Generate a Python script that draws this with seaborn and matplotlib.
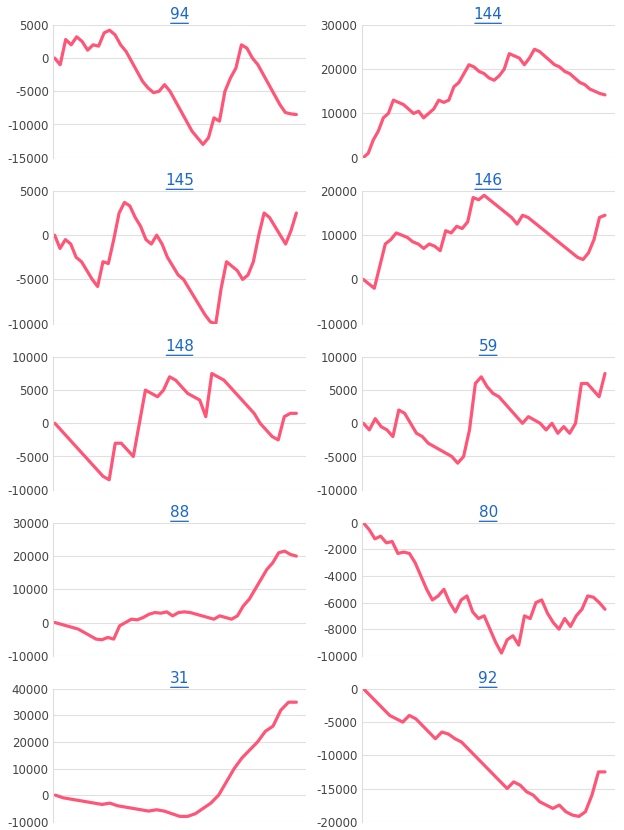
import matplotlib
matplotlib.use("Agg")
import matplotlib.pyplot as plt
import seaborn as sns
import pandas as pd

titles = ["94", "144", "145", "146", "148", "59", "88", "80", "31", "92"]
s94 = [0,-1000,2800,2000,3200,2500,1200,2000,1800,3800,4200,3500,2000,1000,-500,-2000,-3500,-4500,-5200,-5000,-4000,-5000,-6500,-8000,-9500,-11000,-12000,-13000,-12000,-9000,-9500,-5000,-3000,-1500,2000,1500,0,-1000,-2500,-4000,-5500,-7000,-8200,-8400,-8500]
s144 = [0,1000,4000,6000,9000,10000,13000,12500,12000,11000,10000,10500,9000,10000,11000,13000,12500,13000,16000,17000,19000,21000,20500,19500,19000,18000,17500,18500,20000,23500,23000,22500,21000,22500,24500,24000,23000,22000,21000,20500,19500,19000,18000,17000,16500,15500,15000,14500,14200]
s145 = [0,-1500,-500,-1000,-2500,-3000,-4000,-5000,-5800,-3000,-3200,-500,2500,3700,3300,2000,1000,-500,-1000,0,-1000,-2500,-3500,-4500,-5000,-6000,-7000,-8000,-9000,-9800,-10000,-6000,-3000,-3500,-4000,-5000,-4500,-3000,0,2500,2000,1000,0,-1000,500,2500]
s146 = [0,-1000,-2000,3000,8000,9000,10500,10000,9500,8500,8000,7000,8000,7500,6500,11000,10500,12000,11500,13000,18500,18000,19000,18000,17000,16000,15000,14000,12500,14500,14000,13000,12000,11000,10000,9000,8000,7000,6000,5000,4500,6000,9000,14000,14500]
s148 = [0,-1000,-2000,-3000,-4000,-5000,-6000,-7000,-8000,-8500,-3000,-3000,-4000,-5000,0,5000,4500,4000,5000,7000,6500,5500,4500,4000,3500,1000,7500,7000,6500,5500,4500,3500,2500,1500,0,-1000,-2000,-2500,1000,1500,1500]
s59 = [0,-1000,700,-500,-1000,-2000,2000,1500,0,-1500,-2000,-3000,-3500,-4000,-4500,-5000,-6000,-5000,-1000,6000,7000,5500,4500,4000,3000,2000,1000,0,1000,500,0,-1000,0,-1500,-500,-1500,0,6000,6000,5000,4000,7500]
s88 = [0,-500,-1000,-1500,-2000,-3000,-4000,-5000,-5200,-4500,-5000,-1000,0,1000,800,1500,2500,3000,2800,3200,2000,3000,3200,3000,2500,2000,1500,1000,2000,1500,1000,2000,5000,7000,10000,13000,16000,18000,21000,21500,20500,20000]
s80 = [0,-500,-1200,-1000,-1500,-1400,-2300,-2200,-2300,-3000,-4000,-5000,-5800,-5500,-5000,-6000,-6700,-5800,-5500,-6700,-7200,-7000,-8000,-9000,-9800,-8800,-8500,-9200,-7000,-7200,-6000,-5800,-6800,-7500,-8000,-7200,-7800,-7000,-6500,-5500,-5600,-6000,-6500]
s31 = [0,-1000,-1500,-2000,-2500,-3000,-3500,-3000,-4000,-4500,-5000,-5500,-6000,-5500,-6000,-7000,-8000,-8000,-7000,-5000,-3000,0,5000,10000,14000,17000,20000,24000,26000,32000,35000,35000]
s92 = [0,-1000,-2000,-3000,-4000,-4500,-5000,-4000,-4500,-5500,-6500,-7500,-6500,-6800,-7500,-8000,-9000,-10000,-11000,-12000,-13000,-14000,-15000,-14000,-14500,-15500,-16000,-17000,-17500,-18000,-17500,-18500,-19000,-19200,-18500,-16000,-12500,-12500]
series = [s94, s144, s145, s146, s148, s59, s88, s80, s31, s92]
yticks = [
    [-15000,-10000,-5000,0,5000], [0,10000,20000,30000],
    [-10000,-5000,0,5000], [-10000,0,10000,20000],
    [-10000,-5000,0,5000,10000], [-10000,-5000,0,5000,10000],
    [-10000,0,10000,20000,30000], [-10000,-8000,-6000,-4000,-2000,0],
    [-10000,0,10000,20000,30000,40000], [-20000,-15000,-10000,-5000,0],
]

sns.set_style("white")
fig, axes = plt.subplots(5, 2, figsize=(6.24, 8.30), dpi=100)
fig.subplots_adjust(left=0.085, right=0.985, top=0.97, bottom=0.01, wspace=0.22, hspace=0.25)
for ax, t, s, yt in zip(axes.flat, titles, series, yticks):
    df = pd.DataFrame({"x": range(len(s)), "y": s})
    sns.lineplot(data=df, x="x", y="y", ax=ax, color="#ff5577", linewidth=2.3)
    n = len(s)
    ax.set_xlim(-0.3, (n - 1) * 1.04)
    ax.set_ylim(yt[0], yt[-1])
    ax.set_yticks(yt)
    ax.set_yticklabels([str(v) for v in yt], fontsize=8.5, color="#444444")
    ax.set_xticks([])
    ax.set_xlabel(""); ax.set_ylabel("")
    ax.grid(axis="y", color="#e0e0e0", linewidth=0.8)
    ax.set_axisbelow(True)
    for sp in ["top", "right", "bottom"]:
        ax.spines[sp].set_visible(False)
    ax.spines["left"].set_color("#dddddd")
    ax.tick_params(axis="y", length=0, pad=3)
    ax.set_title(t, fontsize=11, color="#1a66cc", pad=4)
    hw = 0.0175 * len(t)
    ax.annotate("", xy=(0.5 - hw, 1.012), xytext=(0.5 + hw, 1.012), xycoords="axes fraction",
                arrowprops=dict(arrowstyle="-", color="#1a66cc", lw=0.9, shrinkA=0, shrinkB=0))
fig.savefig("out.png", dpi=100)
